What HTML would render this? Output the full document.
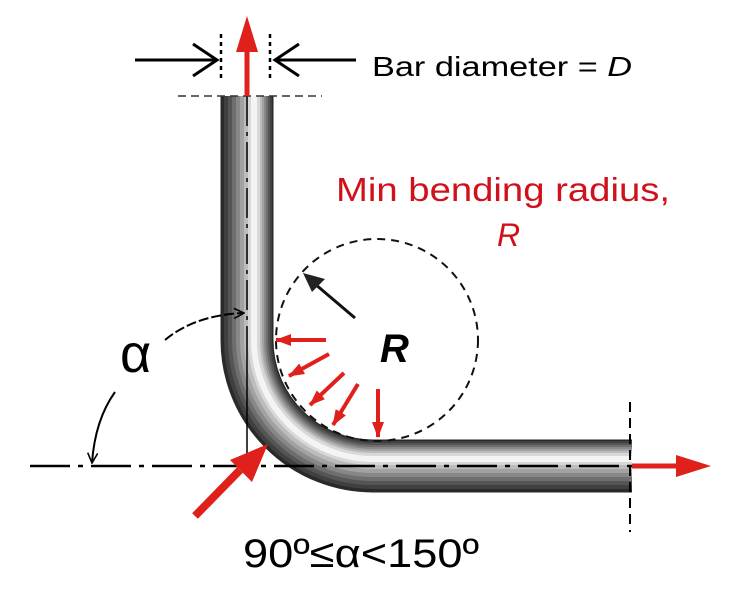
<!DOCTYPE html>
<html><head><meta charset="utf-8"><style>
html,body{margin:0;padding:0;background:#fff;width:734px;height:594px;overflow:hidden}
svg{display:block}
</style></head><body>
<svg width="734" height="594" viewBox="0 0 734 594" xmlns="http://www.w3.org/2000/svg">
<defs>
<marker id="rh" markerWidth="16" markerHeight="14" refX="15" refY="7" orient="auto" markerUnits="userSpaceOnUse" viewBox="0 0 16 14"><path d="M0,1 L16,7 L0,13 Z" fill="#e0201a"/></marker>
<marker id="bh" markerWidth="12" markerHeight="12" refX="11" refY="6" orient="auto" markerUnits="userSpaceOnUse" viewBox="0 0 12 12"><path d="M1,1 L11,6 L1,11" fill="none" stroke="#000" stroke-width="1.6"/></marker>
</defs>
<!-- pipe -->
<g fill="none" stroke-linecap="butt">
<path d="M247,96 L247,340 A126,126 0 0 0 373,466 L632,466" stroke="#2a2a2a" stroke-width="53"/>
<path d="M248,96 L248,340 A125,125 0 0 0 373,465 L632,465" stroke="#404040" stroke-width="48"/>
<path d="M249,96 L249,340 A124,124 0 0 0 373,464 L632,464" stroke="#555" stroke-width="42"/>
<path d="M250,96 L250,340 A123,123 0 0 0 373,463 L632,463" stroke="#6e6e6e" stroke-width="36"/>
<path d="M251,96 L251,340 A122,122 0 0 0 373,462 L632,462" stroke="#888" stroke-width="30"/>
<path d="M252,96 L252,340 A121,121 0 0 0 373,461 L632,461" stroke="#a2a2a2" stroke-width="24"/>
<path d="M253,96 L253,340 A120,120 0 0 0 373,460 L632,460" stroke="#bcbcbc" stroke-width="18"/>
<path d="M254,96 L254,340 A119,119 0 0 0 373,459 L632,459" stroke="#d8d8d8" stroke-width="12"/>
<path d="M254,96 L254,340 A119,119 0 0 0 373,459 L632,459" stroke="#f4f4f4" stroke-width="6"/>
</g>
<!-- center lines -->
<line x1="30" y1="466" x2="632" y2="466" stroke="#000" stroke-width="2.5" stroke-dasharray="40,8,5,8"/>
<line x1="247" y1="96" x2="247" y2="340" stroke="#000" stroke-width="1.5" stroke-dasharray="30,6,4,6"/>
<line x1="247" y1="340" x2="247" y2="466" stroke="#000" stroke-width="1.5"/>
<line x1="178" y1="96" x2="322" y2="96" stroke="#333" stroke-width="1.5" stroke-dasharray="8,5"/>
<line x1="630" y1="402" x2="630" y2="532" stroke="#000" stroke-width="2" stroke-dasharray="10,6"/>
<!-- dashed circle -->
<circle cx="377" cy="340" r="101" fill="none" stroke="#111" stroke-width="2" stroke-dasharray="8,6"/>
<!-- radius arrow -->
<line x1="355" y1="318" x2="315" y2="284" stroke="#111" stroke-width="3"/>
<path d="M303,273 L325,279 L312,292 Z" fill="#222"/>
<!-- top dimension -->
<line x1="221" y1="34" x2="221" y2="78" stroke="#000" stroke-width="2.5" stroke-dasharray="4,4"/>
<line x1="270" y1="34" x2="270" y2="78" stroke="#000" stroke-width="2.5" stroke-dasharray="4,4"/>
<line x1="135" y1="60" x2="216" y2="60" stroke="#000" stroke-width="3"/>
<path d="M193,44 L217,60 L193,76" fill="none" stroke="#000" stroke-width="3"/>
<line x1="275" y1="60" x2="356" y2="60" stroke="#000" stroke-width="3"/>
<path d="M299,44 L275,60 L299,76" fill="none" stroke="#000" stroke-width="3"/>
<!-- red arrows -->
<line x1="247" y1="96" x2="247" y2="48" stroke="#e0201a" stroke-width="5"/>
<path d="M247,16 L258,52 L236,52 Z" fill="#e0201a"/>
<line x1="632" y1="466" x2="680" y2="466" stroke="#e0201a" stroke-width="5"/>
<path d="M711,466 L676,455 L676,477 Z" fill="#e0201a"/>
<line x1="195" y1="516" x2="240" y2="470" stroke="#e0201a" stroke-width="8"/>
<path d="M268,444 L230,460 L252,482 Z" fill="#e0201a"/>
<g stroke="#e0201a" stroke-width="4">
<line x1="326" y1="340" x2="276" y2="340" marker-end="url(#rh)"/>
<line x1="329" y1="354" x2="289" y2="376" marker-end="url(#rh)"/>
<line x1="344" y1="373" x2="310" y2="405" marker-end="url(#rh)"/>
<line x1="358" y1="384" x2="333" y2="425" marker-end="url(#rh)"/>
<line x1="378" y1="389" x2="378" y2="437" marker-end="url(#rh)"/>
</g>
<!-- alpha arcs -->
<path d="M165,340 Q195,315 244,313" fill="none" stroke="#000" stroke-width="2" stroke-dasharray="10,3" marker-end="url(#bh)"/>
<path d="M115,392 Q95,420 92,463" fill="none" stroke="#000" stroke-width="2" marker-end="url(#bh)"/>
<!-- text -->
<text x="372" y="76" font-family="'Liberation Sans',sans-serif" font-size="28" fill="#000" textLength="260" lengthAdjust="spacingAndGlyphs">Bar diameter = <tspan font-style="italic">D</tspan></text>
<text x="336" y="201" font-family="'Liberation Sans',sans-serif" font-size="33" fill="#d0101a" textLength="334" lengthAdjust="spacingAndGlyphs">Min bending radius,</text>
<text x="497" y="246" font-family="'Liberation Sans',sans-serif" font-size="32" font-style="italic" fill="#d0101a">R</text>
<text x="380" y="362" font-family="'Liberation Sans',sans-serif" font-size="40" font-style="italic" font-weight="bold" fill="#000">R</text>
<text x="120" y="372" font-family="'Liberation Sans',sans-serif" font-size="54" fill="#000">α</text>
<text x="243" y="567" font-family="'Liberation Sans',sans-serif" font-size="40" fill="#000" textLength="236" lengthAdjust="spacingAndGlyphs">90º≤α&lt;150º</text>
</svg>
</body></html>
